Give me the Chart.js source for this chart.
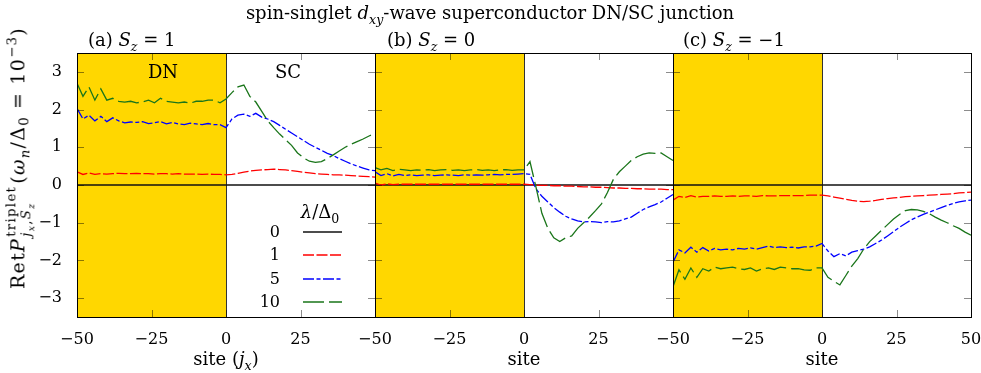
<!DOCTYPE html>
<html lang="en">
<head>
<meta charset="UTF-8">
<title>DN/SC junction</title>
<script src="https://cdn.jsdelivr.net/npm/chart.js@4.4.0/dist/chart.umd.min.js"></script>
<style>
    body{margin:0;background:#fff;}
    #wrap{position:relative;width:981px;height:373px;font-family:"DejaVu Serif",serif;color:#000;overflow:hidden;}
    canvas{position:absolute;top:0;}
    .t{position:absolute;white-space:nowrap;font-size:18px;line-height:1;}
    .n{font-size:16px;}
    .c{transform:translate(-50%,-50%);}
    .l{transform:translate(0,-50%);}
    .r{transform:translate(-100%,-50%);}
    sub,sup{font-size:70%;line-height:0;}
    .stack{display:inline-block;vertical-align:middle;font-size:70%;line-height:1.1;text-align:left;margin:0 2px 0 1px;}
    .stack span{display:block;}
    .eq{margin:0 7px;}
    #ylab{position:absolute;left:19px;top:158px;transform:translate(-50%,-50%) rotate(-90deg);white-space:nowrap;font-size:19px;letter-spacing:1.3px;}
</style>
</head>
<body>
<div id="wrap">
    <canvas id="pa"></canvas>
    <canvas id="pb"></canvas>
    <canvas id="pc"></canvas>

    <div class="t c" style="left:490px;top:13px;">spin-singlet <i>d</i><sub><i>xy</i></sub>-wave superconductor DN/SC junction</div>
    <div class="t l" style="left:88px;top:40px;">(a) <i>S</i><sub><i>z</i></sub> = 1</div>
    <div class="t l" style="left:387px;top:40px;">(b) <i>S</i><sub><i>z</i></sub> = 0</div>
    <div class="t l" style="left:683px;top:40px;">(c) <i>S</i><sub><i>z</i></sub> = −1</div>

    <div class="t c" style="left:163px;top:72px;">DN</div>
    <div class="t c" style="left:288px;top:72px;">SC</div>

    <div class="t c" style="left:226px;top:359px;">site (<i>j</i><sub><i>x</i></sub>)</div>
    <div class="t c" style="left:524px;top:359px;">site</div>
    <div class="t c" style="left:822px;top:359px;">site</div>

    <div id="ylab">Ret<i>P</i><span class="stack"><span>triplet</span><span><i>j<sub>x</sub></i>,<i>S<sub>z</sub></i></span></span>(<i>ω<sub>n</sub></i>/Δ<sub>0</sub><span class="eq">=</span>10<sup>−3</sup>)</div>

    <div class="t c" style="left:320px;top:212px;"><i>λ</i>/Δ<sub>0</sub></div>
    <div id="legendNums"></div>
</div>

<script>
    // sites along the junction (x axis), same for every panel
    const sites=[-50,-48,-46,-44,-42,-40,-38,-36,-34,-32,-30,-28,-26,-24,-22,-20,-18,-16,-14,-12,-10,-8,-6,-4,-2,
        0,2,4,6,8,10,12,14,16,18,20,22,24,26,28,30,32,34,36,38,40,42,44,46,48,50];

    // lambda = 0 is identically zero
    const zeroSites=[-50,50];
    const zeroVals=[0,0];

    const lambdaLabels=["0","1","5","10"];
    const xTicks=[-50,-25,0,25,50];
    const yTicks=[-3,-2,-1,0,1,2,3];

    // (a) Sz = 1
    const aRed=[0.35,0.28,0.32,0.28,0.30,0.29,0.30,0.31,0.30,0.30,0.31,0.30,0.30,0.29,0.30,0.30,0.29,0.30,0.29,0.29,0.29,0.28,0.29,0.28,0.28,
        0.27,0.28,0.31,0.34,0.37,0.39,0.40,0.41,0.42,0.41,0.40,0.38,0.36,0.34,0.32,0.30,0.29,0.28,0.27,0.27,0.26,0.25,0.24,0.23,0.22,0.21];
    const aBlue=[2.03,1.75,1.85,1.70,1.82,1.68,1.78,1.70,1.65,1.67,1.66,1.68,1.63,1.65,1.68,1.62,1.66,1.62,1.60,1.64,1.62,1.60,1.63,1.60,1.60,
        1.52,1.75,1.85,1.88,1.82,1.90,1.80,1.75,1.68,1.58,1.48,1.38,1.28,1.18,1.08,1.00,0.92,0.84,0.78,0.70,0.63,0.56,0.50,0.45,0.40,0.38];
    const aGreen=[2.70,2.35,2.60,2.25,2.55,2.25,2.30,2.22,2.20,2.22,2.18,2.20,2.25,2.18,2.30,2.22,2.20,2.18,2.20,2.17,2.22,2.22,2.25,2.25,2.18,
        2.28,2.45,2.60,2.65,2.35,2.20,1.95,1.70,1.52,1.35,1.20,1.05,0.85,0.72,0.63,0.60,0.62,0.70,0.80,0.90,1.00,1.08,1.15,1.22,1.30,1.37];

    // (b) Sz = 0
    const bRed=[0.05,0.00,0.03,0.01,0.02,0.02,0.02,0.02,0.02,0.02,0.02,0.02,0.02,0.02,0.02,0.02,0.02,0.02,0.02,0.02,0.02,0.02,0.02,0.02,0.02,
        0.02,0.01,0.00,-0.01,-0.01,-0.02,-0.02,-0.03,-0.03,-0.04,-0.05,-0.05,-0.06,-0.06,-0.07,-0.08,-0.08,-0.09,-0.09,-0.10,-0.10,-0.11,-0.11,-0.11,-0.12,-0.12];
    const bBlue=[0.35,0.25,0.30,0.24,0.28,0.25,0.27,0.25,0.26,0.27,0.25,0.26,0.27,0.26,0.25,0.27,0.26,0.27,0.26,0.27,0.28,0.27,0.28,0.28,0.29,
        0.30,0.28,-0.10,-0.30,-0.45,-0.60,-0.72,-0.83,-0.90,-0.95,-0.98,-0.97,-0.98,-1.00,-0.97,-0.98,-0.95,-0.90,-0.85,-0.75,-0.65,-0.58,-0.52,-0.45,-0.35,-0.25];
    const bGreen=[0.46,0.40,0.44,0.38,0.42,0.40,0.38,0.40,0.39,0.41,0.38,0.40,0.41,0.39,0.40,0.38,0.40,0.41,0.39,0.40,0.38,0.40,0.41,0.39,0.40,
        0.40,0.62,-0.05,-0.75,-1.15,-1.40,-1.50,-1.40,-1.35,-1.15,-1.00,-0.85,-0.68,-0.50,-0.20,0.15,0.35,0.50,0.65,0.75,0.82,0.85,0.84,0.85,0.75,0.65];

    // (c) Sz = -1
    const cRed=[-0.40,-0.30,-0.33,-0.28,-0.32,-0.30,-0.30,-0.29,-0.30,-0.30,-0.29,-0.30,-0.29,-0.29,-0.30,-0.28,-0.29,-0.29,-0.28,-0.28,-0.28,-0.28,-0.28,-0.27,-0.27,
        -0.27,-0.29,-0.32,-0.35,-0.38,-0.41,-0.43,-0.44,-0.43,-0.41,-0.38,-0.36,-0.34,-0.33,-0.31,-0.30,-0.29,-0.28,-0.27,-0.26,-0.25,-0.24,-0.23,-0.21,-0.20,-0.19];
    const cBlue=[-2.05,-1.72,-1.80,-1.65,-1.78,-1.66,-1.75,-1.68,-1.72,-1.70,-1.72,-1.68,-1.70,-1.67,-1.70,-1.66,-1.62,-1.66,-1.64,-1.66,-1.65,-1.67,-1.64,-1.64,-1.62,
        -1.55,-1.75,-1.90,-1.82,-1.88,-1.78,-1.74,-1.70,-1.64,-1.55,-1.46,-1.35,-1.24,-1.12,-1.02,-0.92,-0.85,-0.78,-0.72,-0.66,-0.60,-0.54,-0.49,-0.45,-0.42,-0.40];
    const cGreen=[-2.70,-2.25,-2.50,-2.20,-2.45,-2.22,-2.28,-2.18,-2.22,-2.20,-2.18,-2.22,-2.24,-2.20,-2.28,-2.22,-2.20,-2.24,-2.18,-2.20,-2.22,-2.22,-2.25,-2.26,-2.20,
        -2.20,-2.45,-2.55,-2.65,-2.40,-2.15,-1.95,-1.70,-1.50,-1.35,-1.20,-1.05,-0.90,-0.78,-0.68,-0.65,-0.66,-0.70,-0.76,-0.85,-0.93,-1.00,-1.08,-1.15,-1.25,-1.33];

    // layout of the three plot areas (pixels)
    const AREA_LEFT=[77,375,673];
    const AREA_W=298;
    const AREA_TOP=53;
    const AREA_BOTTOM=317;
    const H=373;
    const Y_AXIS_W=77;
    const SIDE_PAD=24;   // room for the -50 / 50 labels hanging past the frame

    const styles=[
        {color:"#111111",dash:[],width:1.4},
        {color:"#ff0000",dash:[11,2.5],width:1.3},
        {color:"#0000ff",dash:[11,2.5,4,2.5],width:1.3},
        {color:"#1a751a",dash:[21,5],width:1.3}
    ];

    const FONT={family:"'DejaVu Serif', serif",size:16};
    const minus=v=>String(v).replace("-","\u2212");

    const panelDecor={
        id:"panelDecor",
        beforeDatasetsDraw(chart){
            const {ctx,chartArea:a,scales:{x}}=chart;
            const x0=x.getPixelForValue(-50), x1=x.getPixelForValue(0);
            ctx.save();
            ctx.fillStyle="#ffd700";
            ctx.fillRect(x0,a.top,x1-x0,a.bottom-a.top);
            ctx.strokeStyle="#333";
            ctx.lineWidth=1;
            ctx.beginPath();
            ctx.moveTo(Math.round(x1)+0.5,a.top);
            ctx.lineTo(Math.round(x1)+0.5,a.bottom);
            ctx.stroke();
            ctx.restore();
        },
        afterDatasetsDraw(chart,args,opts){
            const {ctx,chartArea:a,scales:{x,y}}=chart;
            const L=7;
            ctx.save();
            ctx.strokeStyle="rgba(0,0,0,0.45)";
            ctx.lineWidth=1;
            ctx.beginPath();
            for(const v of xTicks){
                const px=Math.round(x.getPixelForValue(v))+0.5;
                ctx.moveTo(px,a.top);ctx.lineTo(px,a.top+L);
                ctx.moveTo(px,a.bottom);ctx.lineTo(px,a.bottom-L);
            }
            for(const v of yTicks){
                const py=Math.round(y.getPixelForValue(v))+0.5;
                ctx.moveTo(a.left,py);ctx.lineTo(a.left+L,py);
                ctx.moveTo(a.right,py);ctx.lineTo(a.right-L,py);
            }
            ctx.stroke();
            ctx.strokeStyle="#000";
            ctx.strokeRect(Math.round(a.left)+0.5,Math.round(a.top)+0.5,Math.round(a.right-a.left),Math.round(a.bottom-a.top));

            // legend line samples (panel a only)
            if(opts.legend){
                const rows=[179,202,226,249];
                chart.data.datasets.forEach((ds,i)=>{
                    ctx.strokeStyle=ds.borderColor;
                    ctx.lineWidth=ds.borderWidth;
                    ctx.setLineDash(ds.borderDash);
                    ctx.beginPath();
                    ctx.moveTo(a.left+226,a.top+rows[i]);
                    ctx.lineTo(a.left+265,a.top+rows[i]);
                    ctx.stroke();
                });
                ctx.setLineDash([]);
            }
            ctx.restore();
        }
    };

    function toPoints(xs,ys){
        return xs.map((x,i)=>({x:x,y:ys[i]}));
    }

    function makePanel(i,id,red,blue,green){
        const first=i===0;
        const padL=first?0:SIDE_PAD;
        const yw=first?Y_AXIS_W:0;
        const canvas=document.getElementById(id);
        canvas.width=yw+padL+AREA_W+SIDE_PAD;
        canvas.height=H;
        canvas.style.left=(AREA_LEFT[i]-yw-padL)+"px";

        const series=[
            toPoints(zeroSites,zeroVals),
            toPoints(sites,red),
            toPoints(sites,blue),
            toPoints(sites,green)
        ];
        const datasets=series.map((data,k)=>({
            label:lambdaLabels[k],
            data:data,
            borderColor:styles[k].color,
            borderDash:styles[k].dash,
            borderWidth:styles[k].width,
            pointRadius:0,
            tension:0,
            fill:false,
            order:4-k
        }));

        return new Chart(canvas,{
            type:"line",
            data:{datasets},
            plugins:[panelDecor],
            options:{
                responsive:false,
                animation:false,
                devicePixelRatio:1,
                layout:{padding:{left:padL,right:SIDE_PAD,top:AREA_TOP,bottom:0}},
                plugins:{
                    legend:{display:false},
                    tooltip:{enabled:false},
                    panelDecor:{legend:first}
                },
                scales:{
                    x:{
                        type:"linear",
                        min:-50,max:50,
                        afterBuildTicks:s=>{s.ticks=xTicks.map(v=>({value:v}));},
                        afterFit:s=>{s.height=H-AREA_BOTTOM;s.paddingLeft=0;s.paddingRight=0;},
                        grid:{display:false,drawTicks:false},
                        border:{display:false},
                        ticks:{
                            font:FONT,color:"#000",padding:13,maxRotation:0,autoSkip:false,
                            callback:v=>(i<2&&v===50)?"":minus(v)
                        }
                    },
                    y:{
                        type:"linear",
                        display:first,
                        min:-3.5,max:3.5,
                        afterBuildTicks:s=>{s.ticks=yTicks.map(v=>({value:v}));},
                        afterFit:s=>{s.width=yw;s.paddingTop=0;s.paddingBottom=0;},
                        grid:{display:false,drawTicks:false},
                        border:{display:false},
                        ticks:{font:FONT,color:"#000",padding:15,callback:v=>minus(v)}
                    }
                }
            }
        });
    }

    makePanel(0,"pa",aRed,aBlue,aGreen);
    makePanel(1,"pb",bRed,bBlue,bGreen);
    makePanel(2,"pc",cRed,cBlue,cGreen);

    // legend numbers, right aligned next to the line samples
    const legendRows=[232,255,279,302];
    lambdaLabels.forEach((lab,k)=>{
        const d=document.createElement("div");
        d.className="t r n";
        d.style.left="280px";
        d.style.top=legendRows[k]+"px";
        d.textContent=lab;
        legendNums.appendChild(d);
    });
</script>
</body>
</html>
